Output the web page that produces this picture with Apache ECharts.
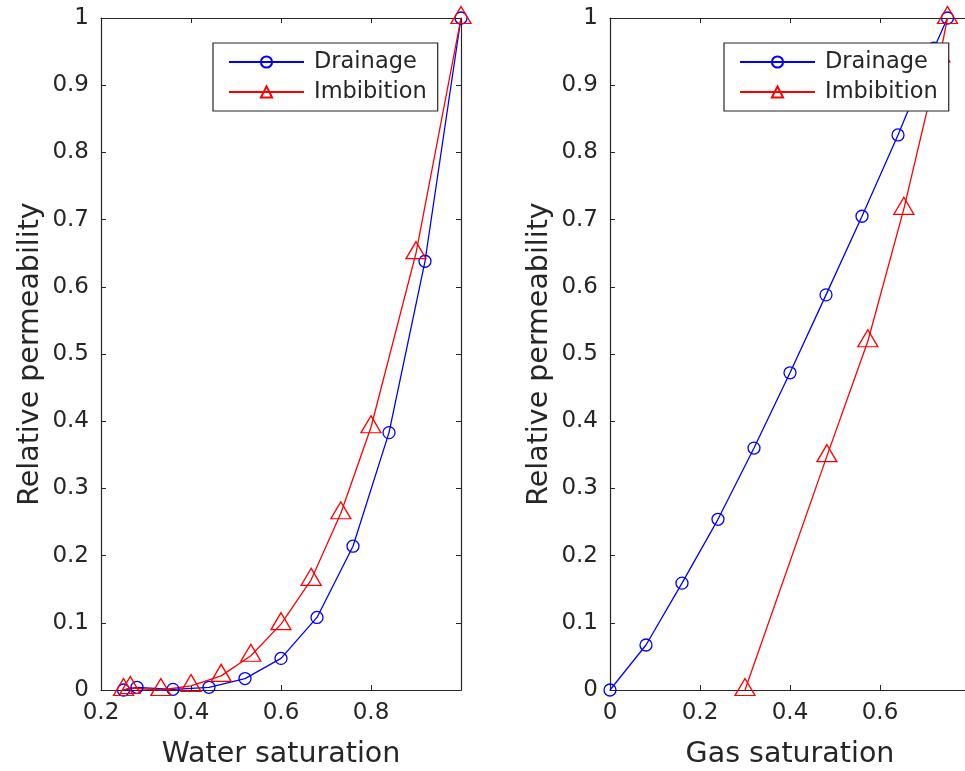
<!DOCTYPE html>
<html>
<head>
<meta charset="utf-8">
<script src="https://cdn.jsdelivr.net/npm/echarts@6/dist/echarts.min.js"></script>
<style>
html,body{margin:0;padding:0;background:#fff;}
#chart{width:965px;height:771px;}
</style>
</head>
<body>
<div id="chart"></div>
<script>
// Water saturation subplot
const waterDrainX = [0.25, 0.28, 0.36, 0.44, 0.52, 0.60, 0.68, 0.76, 0.84, 0.92, 1.0];
const waterDrainY = [0, 0.004, 0.001, 0.004, 0.017, 0.047, 0.108, 0.214, 0.383, 0.638, 1.0];
const waterImbX = [0.25, 0.265, 0.333, 0.40, 0.467, 0.533, 0.60, 0.667, 0.733, 0.80, 0.90, 1.0];
const waterImbY = [0, 0.003, 0.0, 0.006, 0.021, 0.051, 0.098, 0.164, 0.263, 0.391, 0.650, 1.0];
// Gas saturation subplot
const gasDrainX = [0, 0.08, 0.16, 0.24, 0.32, 0.40, 0.48, 0.56, 0.64, 0.72, 0.75];
const gasDrainY = [0, 0.067, 0.159, 0.254, 0.36, 0.472, 0.588, 0.705, 0.826, 0.955, 1.0];
const gasImbX = [0.30, 0.482, 0.573, 0.653, 0.733, 0.75];
const gasImbY = [0, 0.348, 0.519, 0.716, 0.943, 1.0];

const yTicks = ['0','0.1','0.2','0.3','0.4','0.5','0.6','0.7','0.8','0.9','1'];
const waterTicks = ['0.2','0.4','0.6','0.8'];
const gasTicks = ['0','0.2','0.4','0.6'];
const seriesNames = ['Drainage', 'Imbibition'];
const xTitles = ['Water saturation', 'Gas saturation'];
const yTitle = 'Relative permeability';

const FONT = 'DejaVu Sans';
const AX = '#262626';

function pair(xs, ys){ return xs.map((x,i)=>[x, ys[i]]); }

function fmtFrom(list){
  return function(v){
    const s = String(Math.round(v*10)/10);
    return list.indexOf(s) >= 0 ? s : '';
  };
}

const grids = [
  {left: 101, top: 18, width: 360, height: 672, outerBoundsMode: 'none', containLabel: false},
  {left: 610, top: 18, width: 360, height: 672, outerBoundsMode: 'none', containLabel: false}
];

const xAxes = [];
const yAxes = [];
[[0.2, 1.0, waterTicks, xTitles[0]], [0, 0.8, gasTicks, xTitles[1]]].forEach((cfg, g) => {
  xAxes.push({
    type: 'value', gridIndex: g, min: cfg[0], max: cfg[1], interval: 0.2, position: 'bottom',
    name: cfg[3], nameLocation: 'middle', nameGap: 50,
    nameTextStyle: {fontFamily: FONT, fontSize: 28.5, color: AX},
    axisLine: {show: true, onZero: false, lineStyle: {color: AX, width: 1.2}},
    axisTick: {show: true, inside: true, length: 5, lineStyle: {color: AX}},
    axisLabel: {fontFamily: FONT, fontSize: 23, color: AX, margin: 12, formatter: fmtFrom(cfg[2]), showMaxLabel: true},
    splitLine: {show: false}
  });
  xAxes.push({
    type: 'value', gridIndex: g, min: cfg[0], max: cfg[1], interval: 0.2, position: 'top',
    axisLine: {show: true, onZero: false, lineStyle: {color: AX, width: 1.2}},
    axisTick: {show: true, inside: true, length: 5, lineStyle: {color: AX}},
    axisLabel: {show: false}, splitLine: {show: false}
  });
  yAxes.push({
    type: 'value', gridIndex: g, min: 0, max: 1, interval: 0.1, position: 'left',
    name: yTitle, nameLocation: 'middle', nameGap: 56,
    nameTextStyle: {fontFamily: FONT, fontSize: 28.5, color: AX},
    axisLine: {show: true, onZero: false, lineStyle: {color: AX, width: 1.2}},
    axisTick: {show: true, inside: true, length: 5, lineStyle: {color: AX}},
    axisLabel: {fontFamily: FONT, fontSize: 23, color: AX, margin: 12,
      formatter: function(v){ const s = String(Math.round(v*10)/10); return yTicks.indexOf(s)>=0 ? s : ''; }},
    splitLine: {show: false}
  });
  yAxes.push({
    type: 'value', gridIndex: g, min: 0, max: 1, interval: 0.1, position: 'right',
    axisLine: {show: true, onZero: false, lineStyle: {color: AX, width: 1.2}},
    axisTick: {show: true, inside: true, length: 5, lineStyle: {color: AX}},
    axisLabel: {show: false}, splitLine: {show: false}
  });
});

function drainSeries(data, g){
  return {
    name: seriesNames[0], type: 'line', xAxisIndex: g*2, yAxisIndex: g*2, data: data,
    symbol: 'circle', symbolSize: 12, showAllSymbol: true,
    lineStyle: {color: '#0000ff', width: 1.3},
    itemStyle: {color: 'rgba(0,0,0,0)', borderColor: '#0000ff', borderWidth: 1.3},
    emphasis: {disabled: true}, animation: false, z: 3
  };
}
function imbSeries(data, g){
  return {
    name: seriesNames[1], type: 'line', xAxisIndex: g*2, yAxisIndex: g*2, data: data,
    symbol: 'triangle', symbolSize: [20, 17], symbolOffset: [0, -3], showAllSymbol: true,
    lineStyle: {color: '#ff0000', width: 1.3},
    itemStyle: {color: 'rgba(0,0,0,0)', borderColor: '#ff0000', borderWidth: 1.3},
    emphasis: {disabled: true}, animation: false, z: 3
  };
}

const legendBase = {
  orient: 'vertical', top: 43,
  data: seriesNames,
  itemWidth: 75, itemHeight: 14, itemGap: 4,
  padding: [6, 11, 6, 15],
  backgroundColor: '#ffffff', borderColor: AX, borderWidth: 1.2, borderRadius: 0,
  textStyle: {fontFamily: FONT, fontSize: 22.5, color: AX, lineHeight: 26, padding: [0,0,0,5]},
  selectedMode: false, z: 10
};

const option = {
  backgroundColor: '#ffffff',
  animation: false,
  grid: grids,
  xAxis: xAxes,
  yAxis: yAxes,
  legend: [
    Object.assign({}, legendBase, {left: 213}),
    Object.assign({}, legendBase, {left: 724})
  ],
  series: [
    drainSeries(pair(waterDrainX, waterDrainY), 0),
    imbSeries(pair(waterImbX, waterImbY), 0),
    drainSeries(pair(gasDrainX, gasDrainY), 1),
    imbSeries(pair(gasImbX, gasImbY), 1)
  ]
};

const chart = echarts.init(document.getElementById('chart'), null, {renderer: 'canvas'});
chart.setOption(option);
</script>
</body>
</html>
